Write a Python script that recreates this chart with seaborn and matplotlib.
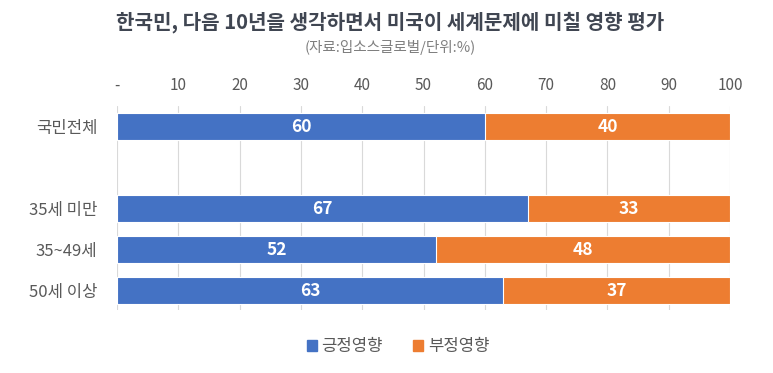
import matplotlib
matplotlib.use("Agg")
import matplotlib.pyplot as plt
import seaborn as sns
import pandas as pd
from matplotlib.patches import Patch

categories = ["국민전체", "35세 미만", "35~49세", "50세 이상"]
order = ["국민전체", " ", "35세 미만", "35~49세", "50세 이상"]
positive = [60, 67, 52, 63]
negative = [40, 33, 48, 37]
series_names = ["긍정영향", "부정영향"]
xticks = [0, 10, 20, 30, 40, 50, 60, 70, 80, 90, 100]
xticklabels = ["-", "10", "20", "30", "40", "50", "60", "70", "80", "90", "100"]

sns.set_theme(style="white")
plt.rcParams["font.family"] = ["Noto Sans CJK KR", "DejaVu Sans"]

BLUE = "#4472C4"
ORANGE = "#ED7D31"

df = pd.DataFrame({"cat": categories, "pos": positive, "neg": negative})
df["total"] = df["pos"] + df["neg"]

fig = plt.figure(figsize=(7.73, 3.73), dpi=100)
ax = fig.add_axes([0.1514, 0.1689, 0.7930, 0.5469])

sns.barplot(data=df, y="cat", x="total", order=order, color=ORANGE, orient="h",
            width=0.66, ax=ax, edgecolor="white", linewidth=0.8, saturation=1)
sns.barplot(data=df, y="cat", x="pos", order=order, color=BLUE, orient="h",
            width=0.66, ax=ax, edgecolor="white", linewidth=0.8, saturation=1)

for i, c in enumerate(categories):
    yi = order.index(c)
    p, n = positive[i], negative[i]
    ax.text(p / 2, yi, str(p), ha="center", va="center", color="white",
            fontsize=12.5, fontweight="bold")
    ax.text(p + n / 2, yi, str(n), ha="center", va="center", color="white",
            fontsize=12.5, fontweight="bold")

ax.set_xlim(0, 100)
ax.set_ylim(4.47, -0.5)
ax.set_xticks(xticks)
ax.set_xticklabels(xticklabels)
ax.xaxis.tick_top()
ax.tick_params(axis="x", length=0, pad=9, labelsize=11, labelcolor="#595959")
ax.tick_params(axis="y", length=0, pad=14, labelsize=12, labelcolor="#595959")
ax.set_xlabel("")
ax.set_ylabel("")
ax.grid(axis="x", color="#D9D9D9", linewidth=0.8)
ax.set_axisbelow(True)
for s in ax.spines.values():
    s.set_visible(False)

fig.text(0.505, 0.94, "한국민, 다음 10년을 생각하면서 미국이 세계문제에 미칠 영향 평가",
         ha="center", va="center", fontsize=14.5, fontweight="bold", color="#404652")
fig.text(0.505, 0.873, "(자료:입소스글로벌/단위:%)", ha="center", va="center",
         fontsize=10.5, color="#7F7F7F")

handles = [Patch(facecolor=BLUE, edgecolor=BLUE), Patch(facecolor=ORANGE, edgecolor=ORANGE)]
fig.legend(handles, series_names, loc="center", bbox_to_anchor=(0.515, 0.07), ncol=2,
           frameon=False, fontsize=12, handlelength=0.6, handleheight=0.6,
           handletextpad=0.3, columnspacing=1.8, labelcolor="#595959")

fig.savefig("out.png", dpi=100)
